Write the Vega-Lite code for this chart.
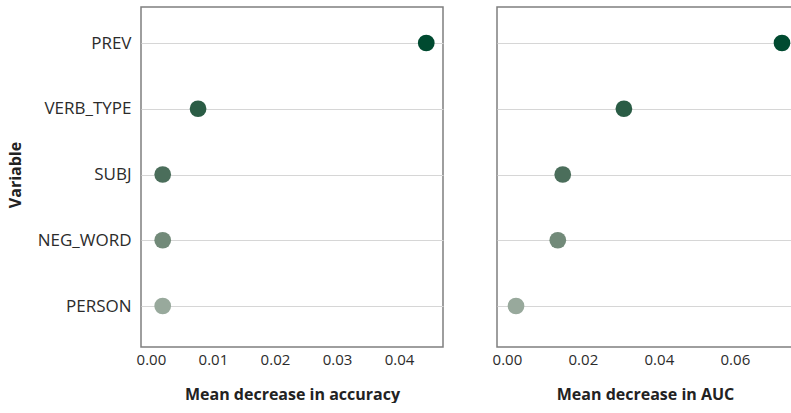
{
  "$schema": "https://vega.github.io/schema/vega-lite/v6.json",
  "padding": {"left": 6, "top": 6, "right": 0, "bottom": 0},
  "background": "white",
  "config": {
    "font": "Open Sans",
    "view": {"stroke": "#7f7f7f", "strokeWidth": 1.5},
    "axis": {
      "labelFont": "Open Sans",
      "labelFontSize": 15,
      "labelColor": "#2b2b2b",
      "titleFont": "Open Sans",
      "titleFontSize": 16,
      "titleFontWeight": "bold",
      "titleColor": "#222222",
      "ticks": false,
      "domain": false,
      "gridColor": "#d6d6d6",
      "gridWidth": 1
    }
  },
  "datasets": {
    "importance": [
      {"variable": "PREV", "metric": "accuracy", "value": 0.0444},
      {"variable": "VERB_TYPE", "metric": "accuracy", "value": 0.0076},
      {"variable": "SUBJ", "metric": "accuracy", "value": 0.0019},
      {"variable": "NEG_WORD", "metric": "accuracy", "value": 0.0019},
      {"variable": "PERSON", "metric": "accuracy", "value": 0.0019},
      {"variable": "PREV", "metric": "auc", "value": 0.0724},
      {"variable": "VERB_TYPE", "metric": "auc", "value": 0.0308},
      {"variable": "SUBJ", "metric": "auc", "value": 0.0147},
      {"variable": "NEG_WORD", "metric": "auc", "value": 0.0134},
      {"variable": "PERSON", "metric": "auc", "value": 0.0024}
    ]
  },
  "spacing": 47,
  "hconcat": [
    {
      "width": 302,
      "height": 340,
      "data": {"name": "importance"},
      "transform": [{"filter": "datum.metric === 'accuracy'"}],
      "mark": {"type": "circle", "size": 280, "opacity": 1},
      "encoding": {
        "x": {
          "field": "value",
          "type": "quantitative",
          "scale": {"domain": [-0.0016, 0.0471], "nice": false, "zero": false},
          "axis": {
            "values": [0, 0.01, 0.02, 0.03, 0.04],
            "format": ".2f",
            "grid": false,
            "labelPadding": 5,
            "titlePadding": 19,
            "title": "Mean decrease in accuracy"
          }
        },
        "y": {
          "field": "variable",
          "type": "nominal",
          "sort": ["PREV", "VERB_TYPE", "SUBJ", "NEG_WORD", "PERSON"],
          "scale": {"range": [36, 299], "padding": 0},
          "axis": {
            "grid": true,
            "labelPadding": 10,
            "labelFontSize": 17,
            "minExtent": 104,
            "maxExtent": 104,
            "titlePadding": 14,
            "title": "Variable"
          }
        },
        "color": {
          "field": "variable",
          "type": "nominal",
          "scale": {
            "domain": ["PREV", "VERB_TYPE", "SUBJ", "NEG_WORD", "PERSON"],
            "range": ["#004a30", "#2a5c45", "#4b6e5b", "#728a79", "#98a99c"]
          },
          "legend": null
        }
      }
    },
    {
      "width": 296,
      "height": 340,
      "data": {"name": "importance"},
      "transform": [{"filter": "datum.metric === 'auc'"}],
      "mark": {"type": "circle", "size": 280, "opacity": 1},
      "encoding": {
        "x": {
          "field": "value",
          "type": "quantitative",
          "scale": {"domain": [-0.0026, 0.0753], "nice": false, "zero": false},
          "axis": {
            "values": [0, 0.02, 0.04, 0.06],
            "format": ".2f",
            "grid": false,
            "labelPadding": 5,
            "titlePadding": 19,
            "title": "Mean decrease in AUC"
          }
        },
        "y": {
          "field": "variable",
          "type": "nominal",
          "sort": ["PREV", "VERB_TYPE", "SUBJ", "NEG_WORD", "PERSON"],
          "scale": {"range": [36, 299], "padding": 0},
          "axis": {
            "grid": true,
            "labels": false,
            "title": null,
            "minExtent": 0,
            "maxExtent": 0
          }
        },
        "color": {
          "field": "variable",
          "type": "nominal",
          "scale": {
            "domain": ["PREV", "VERB_TYPE", "SUBJ", "NEG_WORD", "PERSON"],
            "range": ["#004a30", "#2a5c45", "#4b6e5b", "#728a79", "#98a99c"]
          },
          "legend": null
        }
      }
    }
  ]
}
